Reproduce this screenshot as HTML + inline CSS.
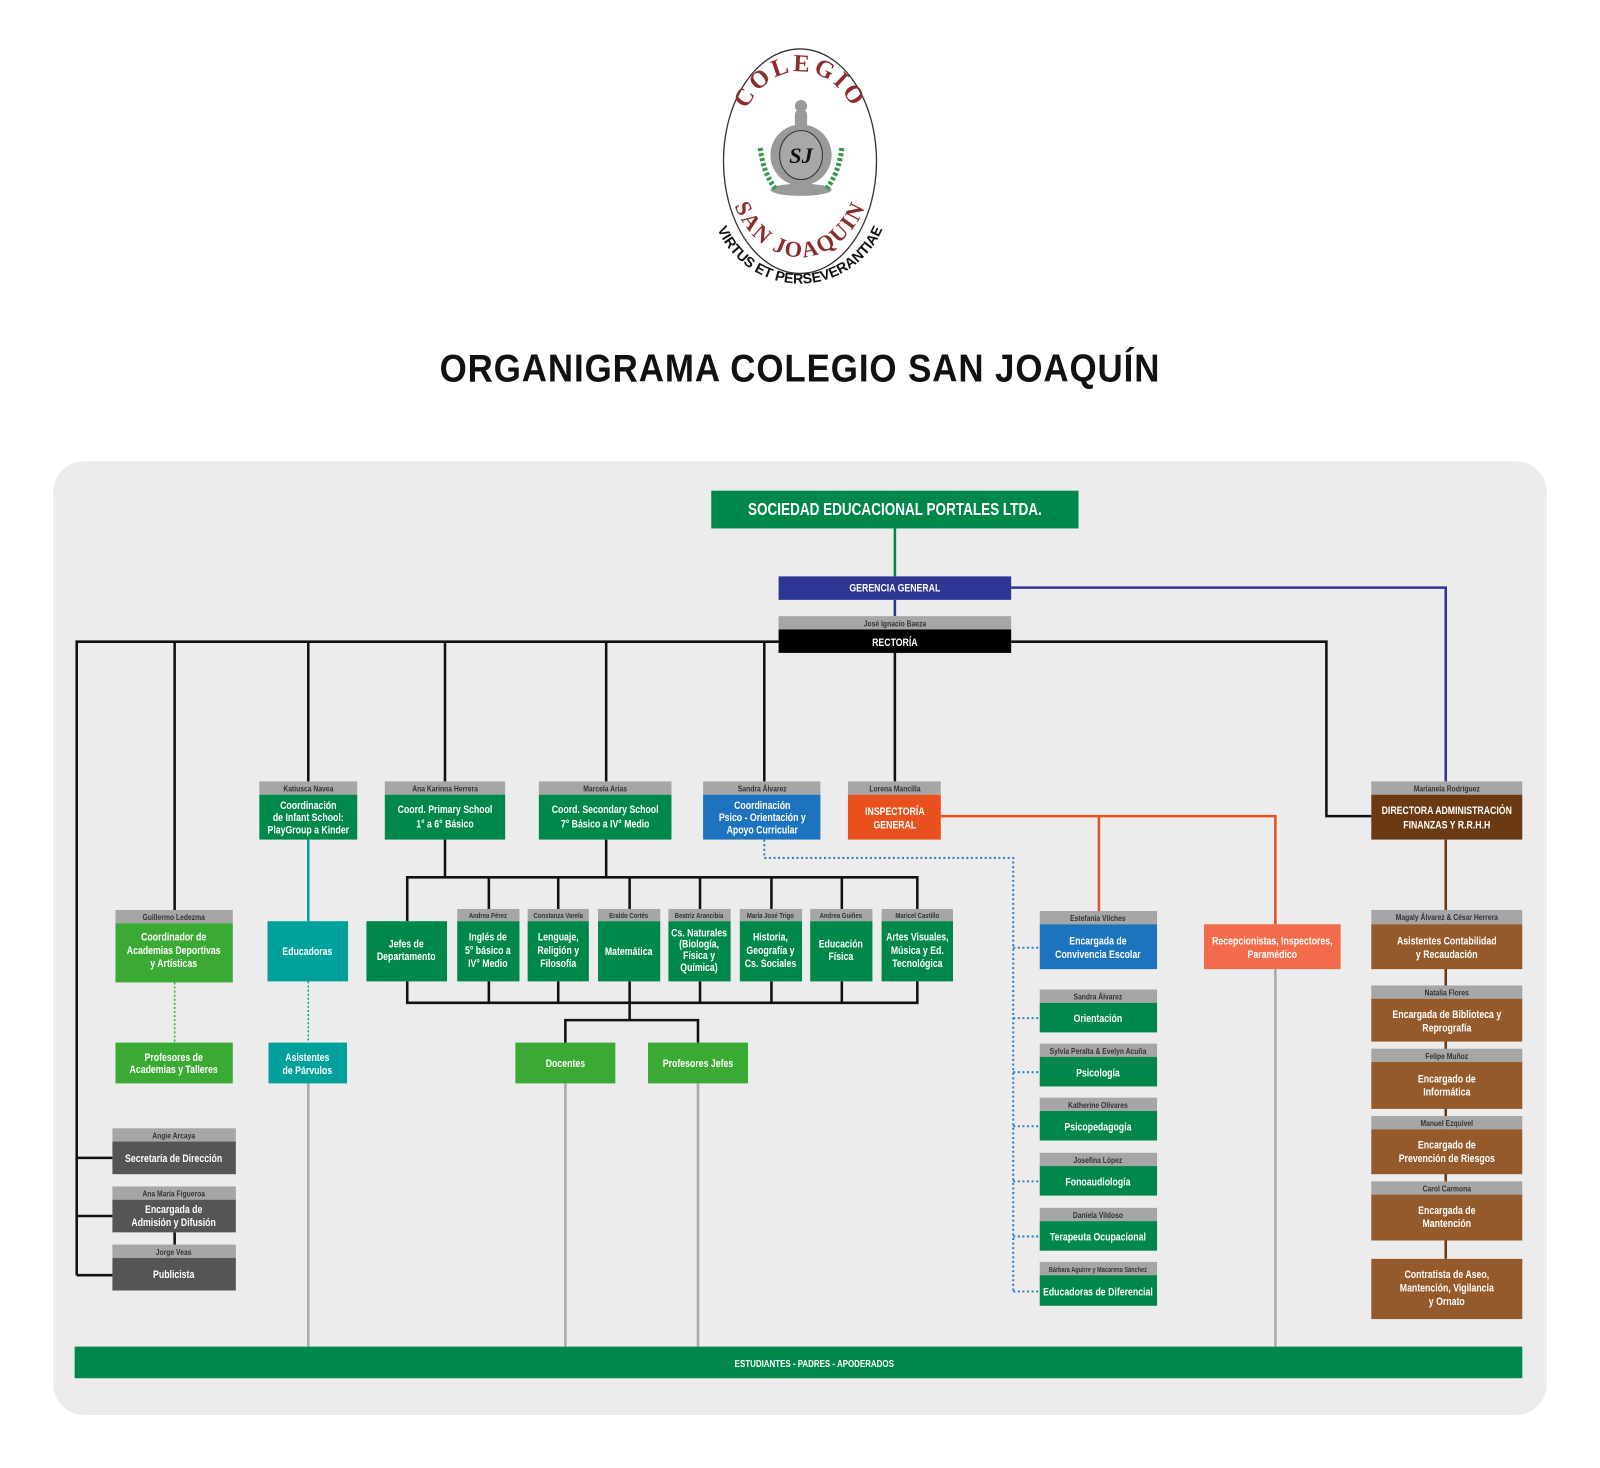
<!DOCTYPE html>
<html><head><meta charset="utf-8"><style>
html,body{margin:0;padding:0;background:#fff;}
svg{display:block;}
text{font-family:"Liberation Sans Narrow","Liberation Sans",sans-serif;font-weight:bold;text-anchor:middle;}
.h,.b,.c{transform-box:fill-box;transform-origin:center;transform:scaleX(.78);}
.c{transform:scaleX(.9);}
.h{font-size:8.5px;fill:#333;}
.b{font-size:11px;fill:#fff;}
.k{stroke:#111;stroke-width:2.5;fill:none;}
.g{stroke:#aaa;stroke-width:2.5;fill:none;}
.d{stroke:#2f7fc8;stroke-width:2;stroke-dasharray:2 2.5;fill:none;}
</style></head><body>
<svg width="1600" height="1468" viewBox="0 0 1568 1439" xmlns="http://www.w3.org/2000/svg">
<rect width="1568" height="1439" fill="#fff"/>
<ellipse cx="784" cy="158" rx="75" ry="110" fill="#fff" stroke="#333" stroke-width="1.3"/>
<defs>
<path id="arcTop" d="M722,150 A62,80 0 0 1 846,150"/>
<path id="arcBot" d="M712,160 A72,92 0 0 0 856,160"/>
<path id="arcBot2" d="M696,190 A88,88 0 0 0 872,190"/>
</defs>
<text style="font-family:'Liberation Serif',serif;font-size:24px;fill:#8b2d2d;letter-spacing:3px"><textPath href="#arcTop" startOffset="50%">COLEGIO</textPath></text>
<text style="font-family:'Liberation Serif',serif;font-size:22px;fill:#8b2d2d;letter-spacing:2px"><textPath href="#arcBot" startOffset="50%">SAN JOAQUIN</textPath></text>
<text style="font-family:'Liberation Sans',sans-serif;font-size:14px;fill:#111"><textPath href="#arcBot2" startOffset="50%">VIRTUS ET PERSEVERANTIAE</textPath></text>
<circle cx="785" cy="104" r="6" fill="#9a9a9a"/>
<rect x="779" y="108" width="12" height="20" rx="4" fill="#9a9a9a"/>
<circle cx="785" cy="152" r="30" fill="#9a9a9a"/>
<ellipse cx="785" cy="152" rx="21" ry="24" fill="#a8a8a8" stroke="#333" stroke-width="1"/>
<text x="785" y="160" style="font-family:'Liberation Serif',serif;font-style:italic;font-size:22px;fill:#111">SJ</text>
<ellipse cx="785" cy="186" rx="30" ry="6" fill="#9a9a9a"/>
<path d="M745,145 Q748,170 760,185" stroke="#3a9a4a" stroke-width="5" fill="none" stroke-dasharray="3 2"/>
<path d="M825,145 Q822,170 810,185" stroke="#3a9a4a" stroke-width="5" fill="none" stroke-dasharray="3 2"/>
<text x="784" y="374" class="c" style="font-family:'Liberation Sans',sans-serif;font-size:38px;fill:#111;letter-spacing:1px">ORGANIGRAMA COLEGIO SAN JOAQUÍN</text>
<rect x="52" y="452" width="1464" height="935" rx="30" fill="#ececec"/>
<line x1="877" y1="518" x2="877" y2="565" stroke="#00874a" stroke-width="2.5"/>
<path d="M991,576 H1417 V766" stroke="#2e3592" stroke-width="2.5" fill="none"/>
<line x1="877" y1="588" x2="877" y2="604" stroke="#2e3592" stroke-width="2.5"/>
<path class="k" d="M763,629 H75 V1250 M991,629 H1300 V800 H1344 M171,629 V892 M302,629 V766 M436,629 V766 M594,629 V766 M749,629 V766 M877,640 V766 M75,1135 H110 M75,1192 H110 M75,1250 H110 M171,1208 V1220"/>
<path d="M922,800 H1250 V906 M1077,800 V893" stroke="#e8501e" stroke-width="2.5" fill="none"/>
<path class="d" d="M749,823 V841 H993 V1266 M993,929 H1019 M993,998 H1019 M993,1051 H1019 M993,1104 H1019 M993,1158 H1019 M993,1212 H1019 M993,1266 H1019"/>
<line x1="302" y1="823" x2="302" y2="903" stroke="#00a19a" stroke-width="2.5"/>
<line x1="302" y1="962" x2="302" y2="1022" stroke="#00a19a" stroke-width="1.5" stroke-dasharray="2 2"/>
<line x1="171" y1="963" x2="171" y2="1022" stroke="#3aaa35" stroke-width="1.5" stroke-dasharray="2 2"/>
<path class="k" d="M436,823 V860 M594,823 V860 M399,903 V860 H899 V891 M479,860 V891 M547,860 V891 M617,860 V891 M686,860 V891 M756,860 V891 M825,860 V891 M399,962 V983 H899 V962 M479,962 V983 M547,962 V983 M617,962 V1000 M686,962 V983 M756,962 V983 M825,962 V983 M554,1022 V1000 H684 V1022"/>
<path class="g" d="M302,1062 V1320 M554,1062 V1320 M684,1062 V1320 M1250,950 V1320"/>
<path d="M1417,823 V1234" stroke="#6b3a12" stroke-width="2.5"/>
<rect x="697" y="481" width="360" height="37" fill="#00874a"/>
<text x="877" y="505" class="c" style="font-size:17px;fill:#fff;transform:scaleX(.78)">SOCIEDAD EDUCACIONAL PORTALES LTDA.</text>
<rect x="763" y="565" width="228" height="23" fill="#2e3592"/>
<text x="877" y="580" class="b">GERENCIA GENERAL</text>
<rect x="763" y="604" width="228" height="13" fill="#a6a6a6"/>
<text x="877" y="614" class="h">José Ignacio Baeza</text>
<rect x="763" y="617" width="228" height="23" fill="#000"/>
<text x="877" y="633" class="b">RECTORÍA</text>
<rect x="254" y="766" width="96" height="13" fill="#a6a6a6"/><text x="302" y="776" class="h">Katiusca Navea</text>
<rect x="254" y="779" width="96" height="44" fill="#00874a"/>
<text x="302" y="793" class="b">Coordinación</text><text x="302" y="805" class="b">de Infant School:</text><text x="302" y="817" class="b">PlayGroup a Kinder</text>
<rect x="377" y="766" width="118" height="13" fill="#a6a6a6"/><text x="436" y="776" class="h">Ana Karinna Herrera</text>
<rect x="377" y="779" width="118" height="44" fill="#00874a"/>
<text x="436" y="797" class="b">Coord. Primary School</text><text x="436" y="811" class="b">1° a 6° Básico</text>
<rect x="528" y="766" width="130" height="13" fill="#a6a6a6"/><text x="593" y="776" class="h">Marcela Arias</text>
<rect x="528" y="779" width="130" height="44" fill="#00874a"/>
<text x="593" y="797" class="b">Coord. Secondary School</text><text x="593" y="811" class="b">7° Básico a IV° Medio</text>
<rect x="689" y="766" width="115" height="13" fill="#a6a6a6"/><text x="747" y="776" class="h">Sandra Álvarez</text>
<rect x="689" y="779" width="115" height="44" fill="#1e73be"/>
<text x="747" y="793" class="b">Coordinación</text><text x="747" y="805" class="b">Psico - Orientación y</text><text x="747" y="817" class="b">Apoyo Curricular</text>
<rect x="831" y="766" width="91" height="13" fill="#a6a6a6"/><text x="877" y="776" class="h">Lorena Mancilla</text>
<rect x="831" y="779" width="91" height="44" fill="#e8501e"/>
<text x="877" y="799" class="b">INSPECTORÍA</text><text x="877" y="812" class="b">GENERAL</text>
<rect x="1344" y="766" width="148" height="13" fill="#a6a6a6"/><text x="1418" y="776" class="h">Marianela Rodríguez</text>
<rect x="1344" y="779" width="148" height="44" fill="#6b3a12"/>
<text x="1418" y="798" class="b">DIRECTORA ADMINISTRACIÓN</text><text x="1418" y="812" class="b">FINANZAS Y R.R.H.H</text>
<rect x="113" y="892" width="115" height="13" fill="#a6a6a6"/><text x="170" y="902" class="h">Guillermo Ledezma</text>
<rect x="113" y="905" width="115" height="58" fill="#3aaa35"/>
<text x="170" y="922" class="b">Coordinador de</text><text x="170" y="935" class="b">Academias Deportivas</text><text x="170" y="948" class="b">y Artísticas</text>
<rect x="113" y="1022" width="115" height="40" fill="#3aaa35"/>
<text x="170" y="1040" class="b">Profesores de</text><text x="170" y="1052" class="b">Academias y Talleres</text>
<rect x="262" y="903" width="79" height="59" fill="#00a19a"/><text x="301" y="936" class="b">Educadoras</text>
<rect x="263" y="1022" width="77" height="40" fill="#00a19a"/>
<text x="301" y="1040" class="b">Asistentes</text><text x="301" y="1053" class="b">de Párvulos</text>
<rect x="359" y="903" width="79" height="59" fill="#00874a"/>
<text x="398" y="929" class="b">Jefes de</text><text x="398" y="941" class="b">Departamento</text>
<rect x="448" y="891" width="61" height="12" fill="#a6a6a6"/><text x="478" y="900" class="h" style="font-size:7.5px">Andrea Pérez</text>
<rect x="448" y="903" width="61" height="59" fill="#00874a"/>
<text x="478" y="922" class="b">Inglés de</text><text x="478" y="935" class="b">5° básico a</text><text x="478" y="948" class="b">IV° Medio</text>
<rect x="517" y="891" width="60" height="12" fill="#a6a6a6"/><text x="547" y="900" class="h" style="font-size:7.5px">Constanza Varela</text>
<rect x="517" y="903" width="60" height="59" fill="#00874a"/>
<text x="547" y="922" class="b">Lenguaje,</text><text x="547" y="935" class="b">Religión y</text><text x="547" y="948" class="b">Filosofía</text>
<rect x="586" y="891" width="61" height="12" fill="#a6a6a6"/><text x="616" y="900" class="h" style="font-size:7.5px">Eraldo Cortés</text>
<rect x="586" y="903" width="61" height="59" fill="#00874a"/>
<text x="616" y="936" class="b">Matemática</text>
<rect x="655" y="891" width="61" height="12" fill="#a6a6a6"/><text x="685" y="900" class="h" style="font-size:7.5px">Beatriz Arancibia</text>
<rect x="655" y="903" width="61" height="59" fill="#00874a"/>
<text x="685" y="918" class="b">Cs. Naturales</text><text x="685" y="929" class="b">(Biología,</text><text x="685" y="940" class="b">Física y</text><text x="685" y="952" class="b">Química)</text>
<rect x="725" y="891" width="61" height="12" fill="#a6a6a6"/><text x="755" y="900" class="h" style="font-size:7.5px">María José Trigo</text>
<rect x="725" y="903" width="61" height="59" fill="#00874a"/>
<text x="755" y="922" class="b">Historia,</text><text x="755" y="935" class="b">Geografía y</text><text x="755" y="948" class="b">Cs. Sociales</text>
<rect x="794" y="891" width="61" height="12" fill="#a6a6a6"/><text x="824" y="900" class="h" style="font-size:7.5px">Andrea Guiñes</text>
<rect x="794" y="903" width="61" height="59" fill="#00874a"/>
<text x="824" y="929" class="b">Educación</text><text x="824" y="941" class="b">Física</text>
<rect x="864" y="891" width="70" height="12" fill="#a6a6a6"/><text x="899" y="900" class="h" style="font-size:7.5px">Maricel Castillo</text>
<rect x="864" y="903" width="70" height="59" fill="#00874a"/>
<text x="899" y="922" class="b">Artes Visuales,</text><text x="899" y="935" class="b">Música y Ed.</text><text x="899" y="948" class="b">Tecnológica</text>
<rect x="505" y="1022" width="98" height="40" fill="#3aaa35"/><text x="554" y="1046" class="b">Docentes</text>
<rect x="635" y="1022" width="98" height="40" fill="#3aaa35"/><text x="684" y="1046" class="b">Profesores Jefes</text>
<rect x="110" y="1106" width="121" height="13" fill="#a6a6a6"/><text x="170" y="1116" class="h">Angie Arcaya</text>
<rect x="110" y="1119" width="121" height="32" fill="#555"/><text x="170" y="1139" class="b">Secretaría de Dirección</text>
<rect x="110" y="1163" width="121" height="13" fill="#a6a6a6"/><text x="170" y="1173" class="h">Ana María Figueroa</text>
<rect x="110" y="1176" width="121" height="32" fill="#555"/><text x="170" y="1189" class="b">Encargada de</text><text x="170" y="1202" class="b">Admisión y Difusión</text>
<rect x="110" y="1220" width="121" height="13" fill="#a6a6a6"/><text x="170" y="1230" class="h">Jorge Veas</text>
<rect x="110" y="1233" width="121" height="32" fill="#555"/><text x="170" y="1253" class="b">Publicista</text>
<rect x="1019" y="893" width="115" height="13" fill="#a6a6a6"/><text x="1076" y="903" class="h">Estefanía Vilches</text>
<rect x="1019" y="906" width="115" height="44" fill="#1e73be"/><text x="1076" y="926" class="b">Encargada de</text><text x="1076" y="939" class="b">Convivencia Escolar</text>
<rect x="1019" y="970" width="115" height="13" fill="#a6a6a6"/><text x="1076" y="980" class="h">Sandra Álvarez</text>
<rect x="1019" y="983" width="115" height="29" fill="#00874a"/><text x="1076" y="1002" class="b">Orientación</text>
<rect x="1019" y="1023" width="115" height="13" fill="#a6a6a6"/><text x="1076" y="1033" class="h">Sylvia Peralta &amp; Evelyn Acuña</text>
<rect x="1019" y="1036" width="115" height="29" fill="#00874a"/><text x="1076" y="1055" class="b">Psicología</text>
<rect x="1019" y="1076" width="115" height="13" fill="#a6a6a6"/><text x="1076" y="1086" class="h">Katherine Olivares</text>
<rect x="1019" y="1089" width="115" height="29" fill="#00874a"/><text x="1076" y="1108" class="b">Psicopedagogía</text>
<rect x="1019" y="1130" width="115" height="13" fill="#a6a6a6"/><text x="1076" y="1140" class="h">Josefina López</text>
<rect x="1019" y="1143" width="115" height="29" fill="#00874a"/><text x="1076" y="1162" class="b">Fonoaudiología</text>
<rect x="1019" y="1184" width="115" height="13" fill="#a6a6a6"/><text x="1076" y="1194" class="h">Daniela Vildoso</text>
<rect x="1019" y="1197" width="115" height="29" fill="#00874a"/><text x="1076" y="1216" class="b">Terapeuta Ocupacional</text>
<rect x="1019" y="1237" width="115" height="13" fill="#a6a6a6"/><text x="1076" y="1247" class="h" style="font-size:7px">Bárbara Aguirre y Macarena Sánchez</text>
<rect x="1019" y="1250" width="115" height="30" fill="#00874a"/><text x="1076" y="1270" class="b">Educadoras de Diferencial</text>
<rect x="1180" y="906" width="134" height="44" fill="#f26b4b"/><text x="1247" y="926" class="b">Recepcionistas, Inspectores,</text><text x="1247" y="939" class="b">Paramédico</text>
<rect x="1344" y="892" width="148" height="14" fill="#a6a6a6"/><text x="1418" y="902" class="h">Magaly Álvarez &amp; César Herrera</text>
<rect x="1344" y="906" width="148" height="44" fill="#955a2b"/><text x="1418" y="926" class="b">Asistentes Contabilidad</text><text x="1418" y="939" class="b">y Recaudación</text>
<rect x="1344" y="966" width="148" height="13" fill="#a6a6a6"/><text x="1418" y="976" class="h">Natalia Flores</text>
<rect x="1344" y="979" width="148" height="42" fill="#955a2b"/><text x="1418" y="998" class="b">Encargada de Biblioteca y</text><text x="1418" y="1011" class="b">Reprografía</text>
<rect x="1344" y="1028" width="148" height="13" fill="#a6a6a6"/><text x="1418" y="1038" class="h">Felipe Muñoz</text>
<rect x="1344" y="1041" width="148" height="46" fill="#955a2b"/><text x="1418" y="1061" class="b">Encargado de</text><text x="1418" y="1074" class="b">Informática</text>
<rect x="1344" y="1094" width="148" height="13" fill="#a6a6a6"/><text x="1418" y="1104" class="h">Manuel Ezquivel</text>
<rect x="1344" y="1107" width="148" height="44" fill="#955a2b"/><text x="1418" y="1126" class="b">Encargado de</text><text x="1418" y="1139" class="b">Prevención de Riesgos</text>
<rect x="1344" y="1158" width="148" height="13" fill="#a6a6a6"/><text x="1418" y="1168" class="h">Carol Carmona</text>
<rect x="1344" y="1171" width="148" height="45" fill="#955a2b"/><text x="1418" y="1190" class="b">Encargada de</text><text x="1418" y="1203" class="b">Mantención</text>
<rect x="1344" y="1234" width="148" height="59" fill="#955a2b"/><text x="1418" y="1253" class="b">Contratista de Aseo,</text><text x="1418" y="1266" class="b">Mantención, Vigilancia</text><text x="1418" y="1279" class="b">y Ornato</text>
<rect x="73" y="1320" width="1419" height="31" fill="#00874a"/>
<text x="798" y="1340" class="b" style="font-size:10px">ESTUDIANTES - PADRES - APODERADOS</text>
</svg>
</body></html>
